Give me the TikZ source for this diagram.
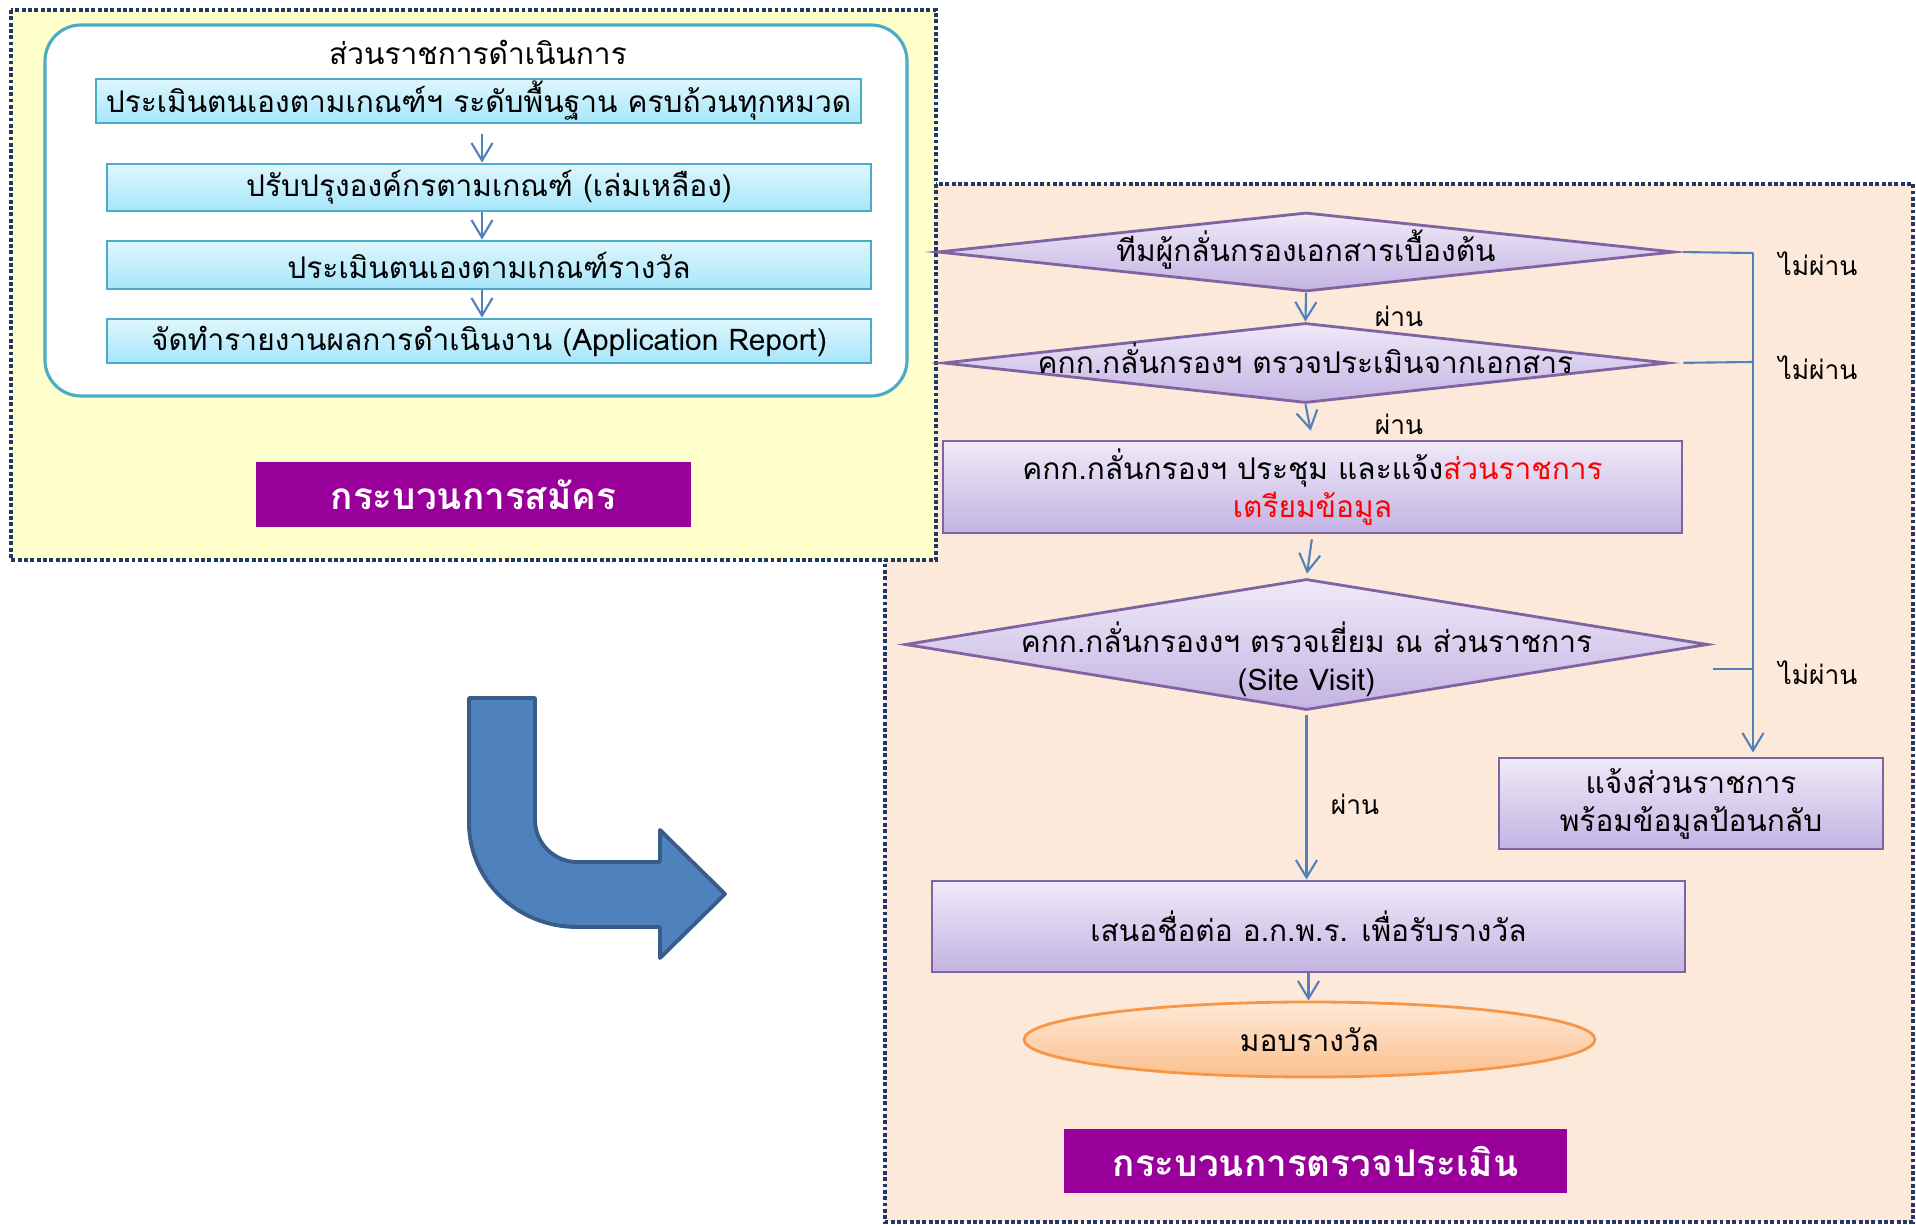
\documentclass[tikz,border=0pt]{standalone}
\usepackage{fontspec}
\setmainfont[Script=Thai]{Loma}
\usetikzlibrary{shapes.geometric,arrows.meta}
\definecolor{navydot}{RGB}{31,56,100}
\definecolor{paleyellow}{RGB}{255,255,204}
\definecolor{peach}{RGB}{253,233,217}
\definecolor{tealline}{RGB}{75,172,198}
\definecolor{cyantop}{RGB}{223,246,253}
\definecolor{cyanbot}{RGB}{166,230,251}
\definecolor{tagpurple}{RGB}{153,0,153}
\definecolor{violetline}{RGB}{128,100,162}
\definecolor{lilactop}{RGB}{239,234,248}
\definecolor{lilacbot}{RGB}{195,179,227}
\definecolor{orangeline}{RGB}{247,150,70}
\definecolor{orangetop}{RGB}{255,233,214}
\definecolor{orangebot}{RGB}{251,192,143}
\definecolor{linkblue}{RGB}{79,129,189}
\definecolor{arrowedge}{RGB}{56,93,138}

\begin{document}
\begin{tikzpicture}[x=1cm,y=-1cm,
            font=\fontsize{8.5}{10.8}\selectfont,
            panel/.style = {draw=navydot, line width=1.25pt,
                        dash pattern=on 1.1pt off 0.7pt},
            cbox/.style = {draw=tealline, line width=0.8pt,
                        top color=cyantop, bottom color=cyanbot,
                        minimum width=7.64cm, inner sep=0pt},
            tag/.style = {fill=tagpurple, text=white, inner sep=0pt,
                        font=\fontsize{10.5}{12}\selectfont\bfseries},
            dia/.style = {diamond, draw=violetline, line width=0.8pt,
                        top color=lilactop, bottom color=lilacbot, inner sep=0pt},
            pbox/.style = {draw=violetline, line width=0.8pt,
                        top color=lilactop, bottom color=lilacbot,
                        inner sep=0pt, align=center},
            link/.style = {draw=linkblue, line width=0.6pt},
            flow/.style = {link, -{Straight Barb[length=5pt,width=6pt]}},
            note/.style = {font=\fontsize{7.5}{9}\selectfont}]
    \useasboundingbox (0,0) rectangle (19.16,12.25);

    % Right panel
    \draw[panel, fill=peach] (8.85,1.84) rectangle (19.13,12.22);
    % Left panel
    \draw[panel, fill=paleyellow] (0.11,0.10) rectangle (9.36,5.60);
    \draw[tealline, line width=0.9pt, fill=white, rounded corners=0.36cm]
        (0.45,0.25) rectangle (9.07,3.96);

    % Application steps
    \node (head) at (4.78,0.525) {ส่วนราชการดำเนินการ};
    \node[cbox, minimum width=7.65cm, minimum height=0.44cm] (b1) at (4.785,1.01)
        {ประเมินตนเองตามเกณฑ์ฯ ระดับพื้นฐาน ครบถ้วนทุกหมวด};
    \node[cbox, minimum height=0.47cm] (b2) at (4.89,1.875)
        {ปรับปรุงองค์กรตามเกณฑ์ (เล่มเหลือง)};
    \node[cbox, minimum height=0.48cm] (b3) at (4.89,2.65)
        {ประเมินตนเองตามเกณฑ์รางวัล};
    \node[cbox, minimum height=0.44cm] (b4) at (4.89,3.41)
        {จัดทำรายงานผลการดำเนินงาน (Application Report)};
    \node[tag, minimum width=4.35cm, minimum height=0.65cm] (tag1) at (4.735,4.945)
        {กระบวนการสมัคร};

    \draw[flow, shorten <=0.1cm] (b1.south -| 4.82,0) -- (b2.north -| 4.82,0);
    \draw[flow] (b2.south -| 4.82,0) -- (b3.north -| 4.82,0);
    \draw[flow] (b3.south -| 4.82,0) -- (b4.north -| 4.82,0);

    % Turn arrow
    \draw[arrowedge, fill=linkblue, line width=1.1pt, line join=round]
        (4.69,6.98) -- (5.35,6.98) -- (5.35,8.20)
        .. controls (5.35,8.43) and (5.54,8.62) .. (5.77,8.62)
        -- (6.60,8.62) -- (6.60,8.30) -- (7.25,8.94) -- (6.60,9.58)
        -- (6.60,9.27) -- (5.77,9.27)
        .. controls (5.17,9.27) and (4.69,8.80) .. (4.69,8.23) -- cycle;

    % Assessment steps
    \node[dia, minimum width=7.37cm, minimum height=0.79cm,
        label={[yshift=0.02cm]center:ทีมผู้กลั่นกรองเอกสารเบื้องต้น}] (d1) at (13.06,2.52) {};
    \node[dia, minimum width=7.25cm, minimum height=0.80cm,
        label={[yshift=0.05cm]center:คกก.กลั่นกรองฯ ตรวจประเมินจากเอกสาร}] (d2) at (13.055,3.63) {};
    \node[pbox, minimum width=7.39cm, minimum height=0.92cm] (r3) at (13.125,4.87)
        {คกก.กลั่นกรองฯ ประชุม และแจ้ง\textcolor{red}{ส่วนราชการ}\\\textcolor{red}{เตรียมข้อมูล}};
    \node[dia, minimum width=8.03cm, minimum height=1.31cm,
        label={[align=center, yshift=-0.15cm]center:คกก.กลั่นกรองงฯ ตรวจเยี่ยม ณ ส่วนราชการ\\(Site Visit)}]
        (d4) at (13.065,6.445) {};
    \node[pbox, minimum width=3.84cm, minimum height=0.91cm] (fb) at (16.91,8.035)
        {แจ้งส่วนราชการ\\พร้อมข้อมูลป้อนกลับ};
    \node[pbox, minimum width=7.53cm, minimum height=0.91cm] (r5) at (13.085,9.265)
        {เสนอชื่อต่อ อ.ก.พ.ร. เพื่อรับรางวัล};
    \node[ellipse, draw=orangeline, line width=0.8pt, top color=orangetop,
        bottom color=orangebot, minimum width=5.71cm, minimum height=0.75cm,
        inner sep=0pt] (award) at (13.095,10.395) {มอบรางวัล};
    \node[tag, minimum width=5.03cm, minimum height=0.64cm] (tag2) at (13.155,11.61)
        {กระบวนการตรวจประเมิน};

    % Pass links
    \draw[flow] (d1.south) -- (d2.north);
    \draw[flow, shorten >=0.09cm] (d2.south) -- (r3.north);
    \draw[flow, shorten <=0.05cm, shorten >=0.04cm] (r3.south) -- (d4.north);
    \draw[flow, shorten <=0.04cm] (d4.south) -- (d4.south |- r5.north);
    \draw[flow] (r5.south) -- (r5.south |- award.north);
    \node[note] (ok1) at (13.99,3.16) {ผ่าน};
    \node[note] (ok2) at (13.99,4.24) {ผ่าน};
    \node[note] (ok3) at (13.55,8.04) {ผ่าน};

    % Fail links
    \coordinate (j1) at (17.53,2.53);
    \coordinate (j2) at (17.53,3.62);
    \coordinate (s4) at (17.13,6.69);
    \coordinate (j4) at (17.53,6.69);
    \draw[link, shorten <=0.07cm] (d1.east) -- (j1);
    \draw[link, shorten <=0.14cm] (d2.east) -- (j2);
    \draw[link] (s4) -- (j4);
    \draw[flow, shorten >=0.04cm] (j1) -- (j1 |- fb.north);
    \node[note] (no1) at (18.18,2.64) {ไม่ผ่าน};
    \node[note] (no2) at (18.18,3.68) {ไม่ผ่าน};
    \node[note] (no3) at (18.18,6.73) {ไม่ผ่าน};
\end{tikzpicture}
\end{document}
